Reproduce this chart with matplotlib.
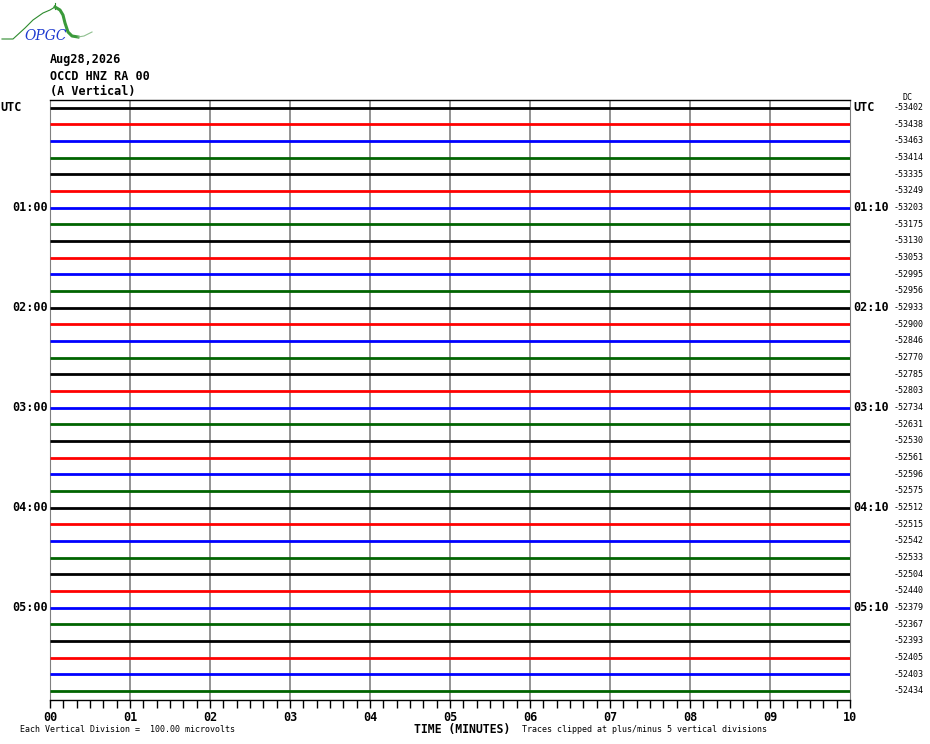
import matplotlib
matplotlib.use("Agg")
import matplotlib.pyplot as plt
import numpy as np
from matplotlib.ticker import MultipleLocator

# helicorder page: 6 hours, one 10 minute row per trace
station = ["Aug28,2026", "OCCD HNZ RA 00", "(A Vertical)"]
row_colors = ["black", "red", "blue", "#006400"]
dc_values = [-53402, -53438, -53463, -53414, -53335, -53249,
             -53203, -53175, -53130, -53053, -52995, -52956,
             -52933, -52900, -52846, -52770, -52785, -52803,
             -52734, -52631, -52530, -52561, -52596, -52575,
             -52512, -52515, -52542, -52533, -52504, -52440,
             -52379, -52367, -52393, -52405, -52403, -52434]
left_labels = ["UTC", "01:00", "02:00", "03:00", "04:00", "05:00"]
right_labels = ["UTC", "01:10", "02:10", "03:10", "04:10", "05:10"]
minute_ticks = ["00", "01", "02", "03", "04", "05", "06", "07", "08", "09", "10"]
# traces are flat at this scale (deviation from DC, in divisions)
trace_minutes = [0, 10]
trace_dev = [0.0, 0.0]

mono = "DejaVu Sans Mono"
W, H = 930, 744
fig = plt.figure(figsize=(W / 100, H / 100), dpi=100)

ax = fig.add_axes([50 / W, 44 / H, 800 / W, 600 / H])
ntr = len(dc_values)
for i in range(ntr):
    ax.plot(trace_minutes, [i + d for d in trace_dev], color=row_colors[i % 4], lw=2,
            solid_capstyle="butt", zorder=3)

ax.set_xlim(0, 10)
ax.set_ylim(ntr - 0.46, -0.45)

for m in range(1, 10):
    ax.axvline(m, color="#808080", lw=1.2, zorder=1)

ax.xaxis.set_minor_locator(MultipleLocator(1 / 6))
ax.set_xticks(range(11))
ax.set_xticklabels(minute_ticks, family=mono, weight="bold", fontsize=8.5)
ax.tick_params(axis="x", which="both", direction="out", length=6, width=1, color="black", pad=2)
ax.set_yticks([])
ax.spines["left"].set_color("#808080")
ax.spines["right"].set_color("#808080")
ax.spines["top"].set_linewidth(1)
ax.spines["bottom"].set_linewidth(1)

# hour labels on both sides, DC values at far right
for k in range(6):
    row = k * 6
    if k == 0:
        ax.text(-50 / 80, row, left_labels[k], ha="left", va="center",
                family=mono, weight="bold", fontsize=8.5)
    else:
        ax.text(-2 / 80, row, left_labels[k], ha="right", va="center",
                family=mono, weight="bold", fontsize=8.5)
    ax.text(10.04, row, right_labels[k], ha="left", va="center",
            family=mono, weight="bold", fontsize=8.5)
for i, v in enumerate(dc_values):
    ax.text(10.54, i, str(v), ha="left", va="center", family=mono, fontsize=6)
ax.text(10.66, -0.62, "DC", ha="left", va="center", family=mono, fontsize=6)

# header text
for j, s in enumerate(station):
    fig.text(50 / W, 1 - (60 + 16 * j) / H, s, ha="left", va="center",
             family=mono, weight="bold", fontsize=8.5)

fig.text(414 / W, 1 - 729 / H, "TIME (MINUTES)", ha="left", va="center",
         family=mono, weight="bold", fontsize=8.3)
fig.text(20 / W, 1 - 730 / H, "Each Vertical Division =  100.00 microvolts",
         ha="left", va="center", family=mono, fontsize=6)
fig.text(522 / W, 1 - 730 / H, "Traces clipped at plus/minus 5 vertical divisions",
         ha="left", va="center", family=mono, fontsize=6)

# OPGC logo
lg = fig.add_axes([0, 0, 1, 1], zorder=-1)
lg.set_xlim(0, W)
lg.set_ylim(H, 0)
lg.axis("off")
lg.plot([2, 13, 25, 33, 43, 50, 55], [39, 39, 28, 20, 13, 10, 7], color="#2e8b2e", lw=0.8)
lg.plot([55, 55], [3, 9], color="#2e8b2e", lw=0.8)
lg.plot([55, 60, 63, 65, 68, 72, 78], [7, 10, 15, 23, 32, 36, 37], color="#3a9a3a", lw=2.2)
lg.plot([78, 84, 92], [37, 36, 32], color="#8fc08f", lw=0.8)
lg.text(46, 36, "OPGC", ha="center", va="center", color="#1e3ad0", style="italic",
        family="DejaVu Serif", fontsize=10)

fig.savefig("out.png", dpi=100)
